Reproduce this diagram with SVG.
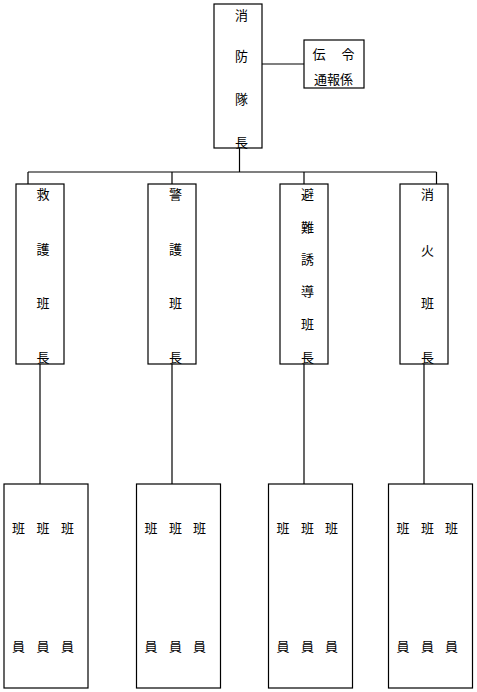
<svg xmlns="http://www.w3.org/2000/svg" width="477" height="692" viewBox="0 0 477 692">
<style>
rect{fill:#fff;stroke:#000;stroke-width:1.2}
line{stroke:#000;stroke-width:1.2}
text{font-family:"Noto Sans CJK JP","Noto Sans CJK SC",sans-serif;font-size:13px;fill:#000;text-anchor:middle;dominant-baseline:central}
</style>
<rect x="0" y="0" width="477" height="692" style="stroke:none"/>
<g id="connectors">
<line x1="262" y1="64" x2="304" y2="64"/>
<line x1="239.5" y1="148" x2="239.5" y2="172"/>
<line x1="28" y1="172" x2="436.5" y2="172"/>
<line x1="28" y1="172" x2="28" y2="184"/>
<line x1="172" y1="172" x2="172" y2="184"/>
<line x1="304" y1="172" x2="304" y2="184"/>
<line x1="436.5" y1="172" x2="436.5" y2="184"/>
<line x1="40" y1="364" x2="40" y2="484"/>
<line x1="172" y1="364" x2="172" y2="484"/>
<line x1="304" y1="364" x2="304" y2="484"/>
<line x1="424" y1="364" x2="424" y2="484"/>
</g>
<g id="chief">
<rect x="214" y="4" width="48" height="144"/>
<text x="241.5" y="14">消</text>
<text x="241.5" y="55">防</text>
<text x="241.5" y="98">隊</text>
<text x="241.5" y="141">長</text>
</g>
<g id="liaison">
<rect x="304" y="40" width="60" height="48"/>
<text x="319" y="53">伝</text>
<text x="348" y="53">令</text>
<text x="333.5" y="78">通報係</text>
</g>
<g id="rescue-leader">
<rect x="16" y="184" width="48" height="180"/>
<text x="43" y="193">救</text>
<text x="43" y="248">護</text>
<text x="43" y="302">班</text>
<text x="43" y="356">長</text>
</g>
<g id="guard-leader">
<rect x="148" y="184" width="48" height="180"/>
<text x="175.5" y="193">警</text>
<text x="175.5" y="248">護</text>
<text x="175.5" y="302">班</text>
<text x="175.5" y="356">長</text>
</g>
<g id="evac-leader">
<rect x="280" y="184" width="48" height="180"/>
<text x="307.5" y="193">避</text>
<text x="307.5" y="226.5">難</text>
<text x="307.5" y="258.5">誘</text>
<text x="307.5" y="290">導</text>
<text x="307.5" y="323">班</text>
<text x="307.5" y="356">長</text>
</g>
<g id="fire-leader">
<rect x="400" y="184" width="48" height="180"/>
<text x="427.5" y="193">消</text>
<text x="427.5" y="249">火</text>
<text x="427.5" y="302">班</text>
<text x="427.5" y="356">長</text>
</g>
<g id="rescue-members">
<rect x="4" y="484" width="84" height="204"/>
<text x="18.5" y="527">班</text><text x="43" y="527">班</text><text x="67.5" y="527">班</text>
<text x="18.5" y="645">員</text><text x="43" y="645">員</text><text x="67.5" y="645">員</text>
</g>
<g id="guard-members">
<rect x="136.5" y="484" width="84" height="204"/>
<text x="151" y="527">班</text><text x="175.5" y="527">班</text><text x="199.5" y="527">班</text>
<text x="151" y="645">員</text><text x="175.5" y="645">員</text><text x="199.5" y="645">員</text>
</g>
<g id="evac-members">
<rect x="268.5" y="484" width="84" height="204"/>
<text x="283" y="527">班</text><text x="307.5" y="527">班</text><text x="331.5" y="527">班</text>
<text x="283" y="645">員</text><text x="307.5" y="645">員</text><text x="331.5" y="645">員</text>
</g>
<g id="fire-members">
<rect x="388.5" y="484" width="84" height="204"/>
<text x="403" y="527">班</text><text x="427.5" y="527">班</text><text x="451.5" y="527">班</text>
<text x="403" y="645">員</text><text x="427.5" y="645">員</text><text x="451.5" y="645">員</text>
</g>
</svg>
